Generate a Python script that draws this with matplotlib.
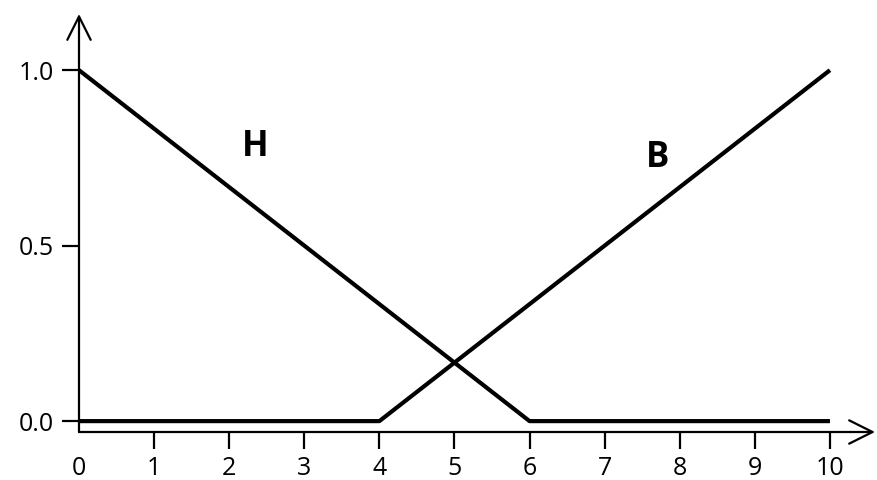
import matplotlib.pyplot as plt

# membership functions
h_x = [0, 6, 10]
h_y = [1.0, 0.0, 0.0]
b_x = [0, 4, 10]
b_y = [0.0, 0.0, 1.0]

x_ticks = list(range(0, 11))
y_ticks = [0.0, 0.5, 1.0]
y_tick_labels = ["0.0", "0.5", "1.0"]

plt.rcParams['font.family'] = ['Open Sans', 'DejaVu Sans']

fig = plt.figure(figsize=(8.77, 4.8), dpi=100)
ax = fig.add_axes([79 / 877, 48 / 480, 796 / 877, 418 / 480])

ax.plot(h_x, h_y, color='black', linewidth=3.0, solid_capstyle='butt')
ax.plot(b_x, b_y, color='black', linewidth=3.0, solid_capstyle='butt')

ax.text(2.34, 0.78, 'H', fontsize=25, fontweight='bold', ha='center', va='center')
ax.text(7.7, 0.75, 'B', fontsize=25, fontweight='bold', ha='center', va='center')

ax.set_xlim(0, 10.6)
ax.set_ylim(-0.031, 1.16)

for s in ax.spines.values():
    s.set_visible(False)

# axes drawn as arrows with open heads
arrow = dict(arrowstyle='->', lw=1.6, color='black',
             mutation_scale=42, shrinkA=0, shrinkB=0)
ax.annotate('', xy=(1.0, 0), xytext=(0, 0), xycoords='axes fraction',
            arrowprops=arrow)
ax.annotate('', xy=(0, 1.0), xytext=(0, 0), xycoords='axes fraction',
            arrowprops=arrow)

ax.set_xticks(x_ticks)
ax.set_yticks(y_ticks)
ax.set_yticklabels(y_tick_labels)
ax.tick_params(axis='both', direction='out', length=12, width=1.6,
               labelsize=18, pad=5)
ax.tick_params(axis='y', pad=6)
# no tick mark under the origin
ax.xaxis.get_major_ticks()[0].tick1line.set_visible(False)

fig.savefig('out.png', dpi=100)
